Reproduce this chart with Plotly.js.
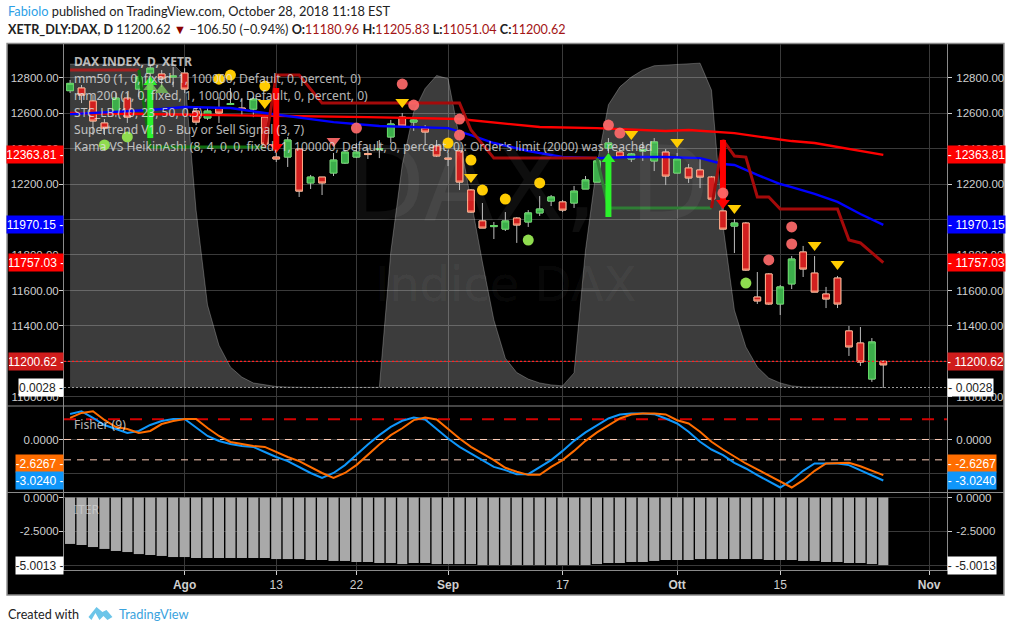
<!DOCTYPE html>
<html><head><meta charset="utf-8">
<script src="https://cdn.plot.ly/plotly-3.0.1.min.js"></script>
<style>html,body{margin:0;padding:0;background:#fff}#c{width:1011px;height:632px}</style>
</head><body><div id="c"></div>
<script>
// ---------- candles (prices) ----------
const opens=[12726,12741,12668,12544,12594,12684,12735,12825,12820,12803,
12825,12611,12572,12628,12648,12628,12622,12577,12352,12352,
12397,12206,12239,12262,12318,12352,12372,12394,12465,12577,
12549,12515,12414,12346,12386,12166,11992,11960,11946,12008,
11986,12037,12104,12099,12093,12172,12211,12403,12380,12341,
12386,12330,12380,12262,12290,12279,12239,12048,11963,11980,
11563,11693,11524,11637,11817,11698,11580,11670,11372,11304,11101,11200.62];
const closes=[12767,12701,12555,12515,12684,12577,12803,12853,12797,12808,
12735,12549,12611,12600,12653,12622,12679,12425,12341,12448,
12160,12239,12206,12335,12380,12380,12366,12400,12538,12527,
12561,12493,12358,12341,12211,12042,11952,11966,11992,11969,
12037,12059,12127,12053,12160,12223,12330,12431,12352,12369,
12392,12437,12245,12341,12234,12239,12115,11946,11980,11715,
11541,11524,11620,11777,11721,11591,11552,11524,11282,11197,11310,11180.96];
const highs=[12786,12758,12701,12566,12713,12713,12831,12870,12842,12859,
12853,12634,12634,12690,12741,12684,12690,12589,12403,12465,
12403,12251,12239,12375,12392,12431,12403,12448,12561,12600,
12572,12532,12448,12375,12392,12172,12093,11986,12042,12014,
12053,12132,12138,12110,12189,12245,12352,12459,12392,12375,
12437,12459,12397,12375,12313,12352,12245,12076,12003,11986,
11704,11698,11631,11794,11851,11794,11620,11682,11400,11394,11332,11205.83];
const lows=[12713,12656,12476,12476,12577,12544,12690,12797,12746,12746,
12713,12532,12561,12544,12645,12589,12577,12403,12324,12296,
12127,12172,12138,12245,12313,12346,12341,12346,12431,12521,
12499,12420,12352,12301,12166,12037,11952,11890,11935,11868,
11958,12020,12076,12042,12065,12172,12211,12375,12352,12324,
12330,12273,12194,12262,12206,12177,12065,11946,11811,11710,
11524,11518,11462,11608,11676,11591,11501,11501,11231,11175,11085,11051.04];
// ---------- STC area ----------
const stc=[99.5,99.5,99.5,99.5,99.5,99.5,99.5,99.5,99.5,99.5,
96,54.6,25.4,13,6.3,3.2,1.4,0.8,0.3,0.15,
0.02,0.02,0.02,0.02,0.02,0.02,0.02,0.05,41.7,68.5,
84.8,92,96,95,76.8,57.7,38.6,20.8,9,4.6,
2.6,1.4,0.8,0.5,4.5,42.3,68.5,87,92.5,95.5,
97.7,99,99.2,99.5,99.7,99.8,91.5,50,23.8,12.5,
6.3,2.9,1.4,0.5,0.15,0.08,0.05,0.03,0.02,0.01,0.005,0.0028];
// ---------- moving averages and supertrend (readings at bar indices) ----------
const mm50Idx=[0,7,10,14,17,23,27,33,35,37,40,43,46,49,52,55,57,58,60,62,63,65,67,69,71];
const mm50Val=[12594,12617,12634,12628,12600,12549,12527,12515,12476,12431,12386,12352,12346,12352,12352,12346,12313,12307,12251,12200,12183,12144,12099,12031,11970.15];
const mm200Idx=[0,23,26,34,41,46,52,54,58,61,63,65,68,71];
const mm200Val=[12600,12583,12577,12566,12521,12515,12499,12504,12487,12459,12442,12431,12397,12363.81];
const stRedA=[[0,6],[12842,12842]];
const stGreenA=[[6,7,17],[12842,12408,12408]];
const stRedB=[[17,18,20,22,34,35,37,46],[12408,12814,12814,12656,12656,12504,12346,12346]];
const stGreenB=[[46,47,56],[12346,12065,12065]];
const stRedC=[[56,57,58,59,60,61,62,67,68,69,71],[12065,12448,12358,12352,12127,12127,12059,12059,11884,11868,11757.03]];
// ---------- signal arrows ----------
const greenArrows=[[7,12459,12775],[47,12014,12341]];
const redArrows=[[18,12741,12408],[57,12448,12093]];
// ---------- markers ----------
const yellowDotsX=[13,14,17,33,35,36,38,41];
const yellowDotsY=[12791,12814,12752,12431,12335,12166,12115,12206];
const greenDotsX=[3,5,40,59];
const greenDotsY=[12420,12465,11884,11642];
const pinkDotsX=[25,29,30,34,34,47,48,57,63,63,61];
const pinkDotsY=[12515,12763,12645,12566,12476,12532,12487,12149,11958,11862,11772];
const yellowTriX=[17,29,35,49,53,58,65,67];
const yellowTriY=[12656,12662,12239,12482,12437,12065,11856,11749];
const greenTriX=[7,8];
const greenTriY=[12746,12730];
const pinkTriX=[23];
const pinkTriY=[12442];
// ---------- Fisher ----------
const fisher=[1.88,2.08,1.59,1.07,0.77,0.48,0.63,1.07,1.36,1.51,
1.51,0.85,0.26,-0.11,-0.33,-0.48,-0.55,-0.92,-1.29,-1.59,
-2.03,-2.47,-2.84,-2.47,-1.89,-1.11,-0.37,0.32,0.93,1.38,
1.62,1.47,0.76,0.07,-0.54,-1.03,-1.52,-2.02,-2.26,-2.56,
-2.56,-2.02,-1.52,-0.84,-0.10,0.52,1.06,1.55,1.84,1.92,
1.92,1.87,1.55,1.18,0.57,-0.17,-0.74,-1.16,-1.72,-2.14,
-2.63,-3.07,-3.54,-3.00,-2.31,-1.77,-1.77,-1.77,-1.89,-2.26,-2.63,-3.024];
const trigger=[1.59,1.96,2.08,1.44,0.92,0.77,0.48,0.63,1.14,1.36,
1.51,1.51,0.85,0.26,-0.18,-0.33,-0.48,-0.55,-0.92,-1.29,
-1.59,-2.03,-2.47,-2.84,-2.47,-1.89,-1.11,-0.37,0.32,0.83,
1.43,1.62,1.47,0.76,0.07,-0.54,-1.03,-1.52,-2.09,-2.38,
-2.61,-2.61,-2.02,-1.52,-0.84,-0.10,0.52,1.06,1.55,1.84,
1.92,1.92,1.85,1.42,1.18,0.57,-0.17,-0.74,-1.28,-1.77,
-2.21,-2.66,-3.12,-3.54,-3.00,-2.31,-1.77,-1.77,-1.72,-1.97,-2.31,-2.6267];
// ---------- ITER ----------
const iter=[-3.44,-3.52,-3.67,-3.81,-3.96,-4.04,-4.19,-4.26,-4.33,-4.41,
-4.41,-4.48,-4.48,-4.48,-4.48,-4.48,-4.48,-4.48,-4.56,-4.56,
-4.56,-4.63,-4.63,-4.70,-4.70,-4.78,-4.78,-4.85,-4.85,-4.93,
-4.85,-4.85,-4.93,-4.93,-4.93,-4.93,-5,-5,-5,-5,
-5,-5,-5,-5,-5,-5,-4.93,-4.85,-4.85,-4.78,
-4.78,-4.70,-4.63,-4.63,-4.63,-4.56,-4.56,-4.56,-4.56,-4.56,
-4.56,-4.63,-4.63,-4.63,-4.70,-4.70,-4.78,-4.78,-4.85,-4.85,-4.93,-5.0013];
// ---------- axes ----------
const tickIdx=[10,18,25,33,43,53,62,75];
const tickLabels=['<b>Ago</b>','13','22','<b>Sep</b>','17','<b>Ott</b>','15','<b>Nov</b>'];
const priceTicks=[12800,12600,12400,12200,12000,11800,11600,11400,11200,11000];
const priceLabels=['12800.00','12600.00','12400.00','12200.00',' ','11800.00','11600.00','11400.00',' ','11000.00'];
const lastClose=11200.62, lastMm50=11970.15, lastMm200=12363.81, lastSt=11757.03, lastStc=0.0028;
const lastFisher=-3.024, lastTrigger=-2.6267, lastIter=-5.0013;
const legendLines=['<b>DAX INDEX, D, XETR</b>','mm50 (1, 0, fixed, 1, 100000, Default, 0, percent, 0)','mm200 (1, 0, fixed, 1, 100000, Default, 0, percent, 0)','STC_LB (10, 23, 50, 0.5)','Supertrend V1.0 - Buy or Sell Signal (3, 7)',"Kama VS HeikinAshi (8, 4, 0, 0, fixed, 1, 100000, Default, 0, percent, 0): Order's limit (2000) was reached"];

const xs=opens.map((_,i)=>i);
const L=63.5,R=947.5,T=44,B=570,W=1011,H=632;
const X=p=>(p-L)/(R-L), Y=p=>(B-p)/(B-T);
const AX='"Liberation Sans", Arial, sans-serif', UI='"Noto Sans", sans-serif', HD='Lato, sans-serif';
const xr=[-0.53,76.56];

const RED='#d11f1f',GREEN='#3cae4b';
function line(x,y,color,w,ya,dash){return {type:'scatter',mode:'lines',x,y,xaxis:'x',yaxis:ya||'y2',line:{color,width:w,dash:dash||'solid'},hoverinfo:'skip',showlegend:false};}
function pts(x,y,sym,size,color,op){return {type:'scatter',mode:'markers',x,y,xaxis:'x',yaxis:'y2',marker:{symbol:sym,size,color,opacity:op||1,line:{width:0}},hoverinfo:'skip',showlegend:false};}
const traces=[];
traces.push({type:'scatter',mode:'lines',x:xs,y:stc,xaxis:'x',yaxis:'y',fill:'tozeroy',fillcolor:'rgba(255,255,255,0.235)',line:{color:'rgba(255,255,255,0.25)',width:1},hoverinfo:'skip',showlegend:false});
traces.push(line(mm200Idx,mm200Val,'#ff0000',2.4));
traces.push(line(mm50Idx,mm50Val,'#0000ff',2.4));
traces.push(line(stRedA[0],stRedA[1],'#a52020',3));
traces.push(line(stGreenA[0],stGreenA[1],'#106f10',3));
traces.push(line(stRedB[0],stRedB[1],'#a50a0a',3));
traces.push(line(stGreenB[0],stGreenB[1],'#2f7d35',3));
traces.push(line(stRedC[0],stRedC[1],'#a50a0a',3));
// wicks, then bodies
traces.push({type:'candlestick',x:xs,open:opens,high:highs,low:lows,close:closes,xaxis:'x',yaxis:'y2',whiskerwidth:0,
  increasing:{line:{color:'#bdbdbd',width:1},fillcolor:'#bdbdbd'},decreasing:{line:{color:'#bdbdbd',width:1},fillcolor:'#bdbdbd'},hoverinfo:'skip',showlegend:false});
traces.push({type:'candlestick',x:xs,open:opens,close:closes,high:opens.map((o,i)=>Math.max(o,closes[i])),low:opens.map((o,i)=>Math.min(o,closes[i])),xaxis:'x',yaxis:'y2',whiskerwidth:0,
  increasing:{line:{color:'#62d765',width:1},fillcolor:GREEN},decreasing:{line:{color:'#ffa986',width:1},fillcolor:RED},hoverinfo:'skip',showlegend:false});
greenArrows.forEach(a=>{traces.push(line([a[0],a[0]],[a[1],a[2]],'#2bf22b',6));traces.push(pts([a[0]],[a[2]],'triangle-up',12,'#2bf22b'));});
redArrows.forEach(a=>{traces.push(line([a[0],a[0]],[a[1],a[2]],'#ff0000',6));traces.push(pts([a[0]],[a[2]],'triangle-down',12,'#ff0000'));});
traces.push(pts(yellowDotsX,yellowDotsY,'circle',11,'#ffcc00'));
traces.push(pts(greenDotsX,greenDotsY,'circle',11,'#8fdc4f'));
traces.push(pts(pinkDotsX,pinkDotsY,'circle',11,'#ff6a6a',0.92));
traces.push(pts(yellowTriX,yellowTriY,'triangle-down',12,'#ffcc00'));
traces.push(pts(greenTriX,greenTriY,'triangle-up',12,'#7fd05f',0.75));
traces.push(pts(pinkTriX,pinkTriY,'triangle-down',12,'#ff6a6a',0.92));
// invisible carrier for the right price axis
traces.push(Object.assign(line(xs,closes,'rgba(0,0,0,0)',0,'y3'),{opacity:0}));
// fisher pane
traces.push(line(xr,[1.5,1.5],'#d40000',2,'y4','12px,10px'));
traces.push(line(xr,[0,0],'#ffcdb8',1,'y4','7px,6px'));
traces.push(line(xr,[-1.5,-1.5],'#ffcdb8',1,'y4','7px,6px'));
traces.push(line(xs,fisher,'#0f96fa',2,'y4'));
traces.push(line(xs,trigger,'#ff6d00',2,'y4'));
traces.push(Object.assign(line(xs,fisher,'rgba(0,0,0,0)',0,'y5'),{opacity:0}));
// iter pane
traces.push({type:'bar',x:xs,y:iter,xaxis:'x',yaxis:'y6',width:0.88,marker:{color:'#a9a9a9',line:{width:0}},hoverinfo:'skip',showlegend:false});
traces.push(Object.assign(line(xs,iter,'rgba(0,0,0,0)',0,'y7'),{opacity:0}));

const ax={color:'#cfcfcf',tickfont:{family:AX,size:11.5,color:'#cfcfcf'},gridcolor:'#3a3a3a',gridwidth:1,zeroline:false,showline:true,linecolor:'#8a8a8a',linewidth:1,ticks:'outside',ticklen:4,tickcolor:'#cfcfcf',fixedrange:true};
const lf={ticklabelstandoff:-2}, rt={ticklabelstandoff:2,showgrid:false};
const mainD=[(B-406)/(B-T),1], fishD=[(B-492.5)/(B-T),(B-406)/(B-T)], iterD=[0,(B-492.5)/(B-T)];
const pr=[10949,12989];
const layout={width:W,height:H,margin:{l:L,r:W-R,t:T,b:H-B,pad:0,autoexpand:false},paper_bgcolor:'#fff',plot_bgcolor:'rgba(0,0,0,0)',showlegend:false,hovermode:false,barmode:'overlay',boxgap:0.17,boxmode:'overlay',
 xaxis:Object.assign({},ax,{domain:[0,1],range:xr,anchor:'y6',tickmode:'array',tickvals:tickIdx,ticktext:tickLabels,rangeslider:{visible:false},tickfont:{family:AX,size:12,color:'#cfcfcf'},showline:true}),
 yaxis:{domain:mainD,range:[-5.69,105.69],visible:false,fixedrange:true,anchor:'x'},
 yaxis2:Object.assign({},ax,lf,{overlaying:'y',side:'left',anchor:'x',range:pr,tickmode:'array',tickvals:priceTicks,ticktext:priceLabels}),
 yaxis3:Object.assign({},ax,rt,{overlaying:'y',side:'right',anchor:'x',range:pr,tickmode:'array',tickvals:priceTicks,ticktext:priceLabels}),
 yaxis4:Object.assign({},ax,lf,{domain:fishD,side:'left',anchor:'x',range:[-3.91,2.47],tickmode:'array',tickvals:[0,-2.5],ticktext:['0.0000',' ']}),
 yaxis5:Object.assign({},ax,rt,{overlaying:'y4',side:'right',anchor:'x',range:[-3.91,2.47],tickmode:'array',tickvals:[0],ticktext:['0.0000']}),
 yaxis6:Object.assign({},ax,lf,{domain:iterD,side:'left',anchor:'x',range:[-5.37,0.37],tickmode:'array',tickvals:[0,-2.5,-5],ticktext:['0.0000','-2.5000',' ']}),
 yaxis7:Object.assign({},ax,rt,{overlaying:'y6',side:'right',anchor:'x',range:[-5.37,0.37],tickmode:'array',tickvals:[0,-2.5,-5],ticktext:['0.0000','-2.5000',' ']}),
 shapes:[
  {type:'rect',layer:'below',xref:'paper',yref:'paper',x0:X(6.5),x1:X(1004.5),y0:Y(595),y1:Y(43.5),fillcolor:'#000',line:{color:'#8a8a8a',width:1.5}},
  {type:'line',xref:'paper',yref:'paper',x0:X(6.5),x1:X(1004.5),y0:Y(406),y1:Y(406),line:{color:'#8a8a8a',width:1}},
  {type:'line',xref:'paper',yref:'paper',x0:X(6.5),x1:X(1004.5),y0:Y(492.5),y1:Y(492.5),line:{color:'#8a8a8a',width:1}},
  {type:'line',xref:'paper',yref:'y2',x0:0,x1:1,y0:lastClose,y1:lastClose,line:{color:'#ff2222',width:1.4,dash:'2px,2px'}},
  {type:'line',xref:'paper',yref:'y',x0:0,x1:1,y0:lastStc,y1:lastStc,line:{color:'#9a9a9a',width:1,dash:'2px,2px'}},
  // TradingView logo
  {type:'path',xref:'paper',yref:'paper',fillcolor:'#6cc5e9',line:{width:0},
   path:'M'+X(88)+','+Y(617)+' L'+X(96)+','+Y(607)+' L'+X(102)+','+Y(612)+' L'+X(106)+','+Y(610)+' L'+X(112)+','+Y(617)+' L'+X(107)+','+Y(620)+' L'+X(103)+','+Y(616)+' L'+X(99)+','+Y(620)+' L'+X(95)+','+Y(613)+' L'+X(91)+','+Y(620)+' Z'}
 ],
 annotations:[]
};
const an=layout.annotations;
function txt(px,py,text,size,color,family,anchor){an.push({xref:'paper',yref:'paper',x:X(px),y:Y(py),xanchor:anchor||'left',yanchor:'middle',showarrow:false,align:'left',text,font:{family:family||UI,size,color},borderpad:0});}
// watermark
txt(528,184,'DAX, D',103,'rgba(255,255,255,0.055)','"DejaVu Sans"','center');
txt(506,284,'Indice DAX',48,'rgba(255,255,255,0.055)','"DejaVu Sans"','center');
// study legend
legendLines.forEach((t,i)=>txt(72.5,61+i*17,t,12.1,'rgba(225,225,225,0.82)'));
txt(72.5,424,'Fisher (9)',12.1,'rgba(225,225,225,0.82)');
txt(72.5,509,'ITER',12.1,'rgba(225,225,225,0.55)');
// header / footer
txt(6,11,'<span style="color:#2e9fe6">Fabiolo</span> published on TradingView.com, October 28, 2018 11:18 EST',12.8,'#222',HD);
const dk='#a31515';
txt(6,29,'<b>XETR_DLY:DAX, D</b> 11200.62 <span style="color:#8b0000">▼</span> −106.50 (−0.94%) <b>O:</b><span style="color:'+dk+'">11180.96</span> <b>H:</b><span style="color:'+dk+'">11205.83</span> <b>L:</b><span style="color:'+dk+'">11051.04</span> <b>C:</b><span style="color:'+dk+'">11200.62</span>',12.6,'#222',HD);
txt(6,614,'Created with',12.6,'#222',HD);
txt(118,614,'TradingView',12.9,'#3ba3de',HD);
// price tags
function tag(yref,val,text,bg,fg,wL,wR,yshift){
  an.push({xref:'paper',yref,x:X(L),y:val,xanchor:'right',yanchor:'middle',yshift:yshift||0,showarrow:false,text:text+' -',width:wL,height:17,align:'center',bgcolor:bg,borderpad:0,font:{family:AX,size:12,color:fg}});
  an.push({xref:'paper',yref,x:X(R),y:val,xanchor:'left',yanchor:'middle',yshift:yshift||0,showarrow:false,text:'- '+text,width:wR,height:17,align:'center',bgcolor:bg,borderpad:0,font:{family:AX,size:12,color:fg}});
}
tag('y2',lastMm200,'12363.81','#ff0000','#fff',56,57);
tag('y2',lastMm50,'11970.15','#0000ff','#fff',56,57);
tag('y2',lastSt,'11757.03','#ff0000','#fff',54,57);
tag('y2',lastClose,'11200.62','#cf1c1c','#fff',54,55);
tag('y2',10949+(lastStc+5.69)/111.38*(12989-10949),'0.0028','#fff','#222',44,45);
tag('y4',lastTrigger,'-2.6267','#ff6d00','#fff',47,48,12);
tag('y4',lastFisher,'-3.0240','#0f96fa','#fff',47,48);
tag('y6',lastIter,'-5.0013','#fff','#222',47,48);
Plotly.newPlot('c',traces,layout,{staticPlot:true,displayModeBar:false,responsive:false});
</script></body></html>
